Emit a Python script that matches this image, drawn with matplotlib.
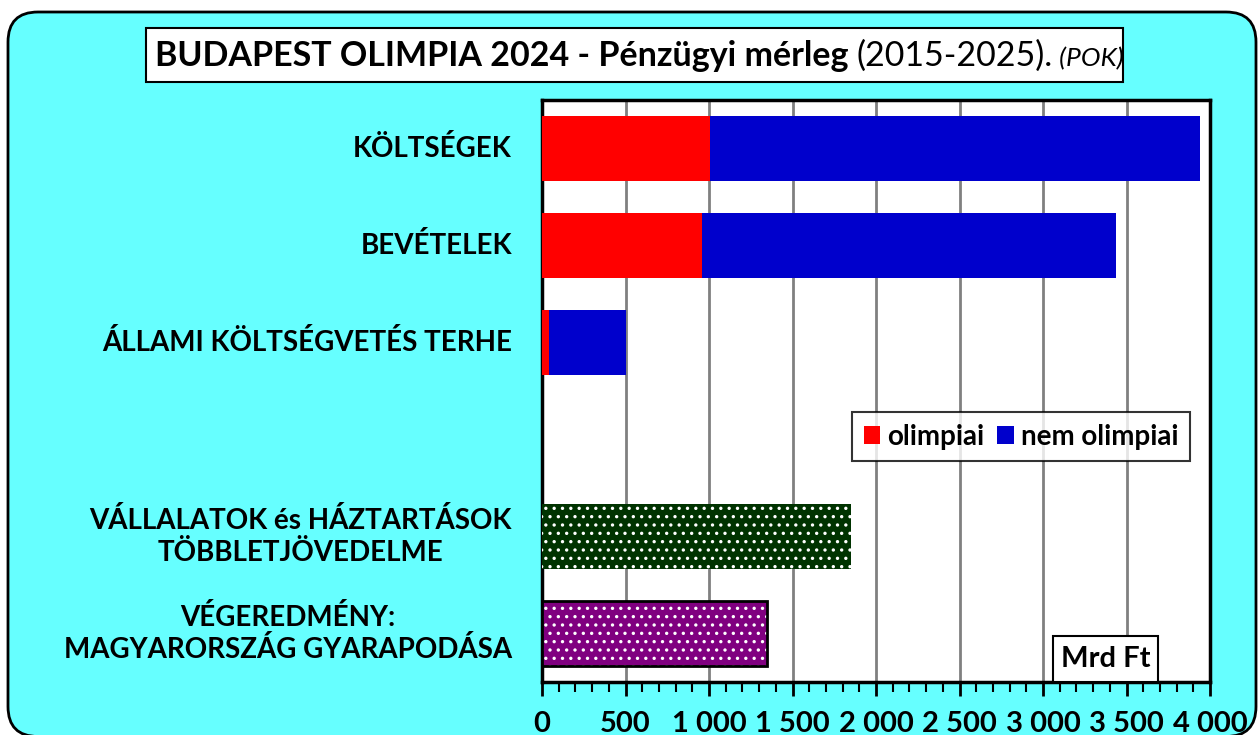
import matplotlib
matplotlib.use("Agg")
import matplotlib.pyplot as plt
from matplotlib.patches import FancyBboxPatch, Patch, Rectangle
from matplotlib.ticker import MultipleLocator, FixedLocator, FuncFormatter

plt.rcParams['font.family'] = ['Lato', 'DejaVu Sans']

categories = ["KÖLTSÉGEK", "BEVÉTELEK", "ÁLLAMI KÖLTSÉGVETÉS TERHE", "",
              "VÁLLALATOK és HÁZTARTÁSOK\nTÖBBLETJÖVEDELME",
              "VÉGEREDMÉNY:\nMAGYARORSZÁG GYARAPODÁSA"]
olimpiai = [1005, 960, 44]
nem_olimpiai = [2935, 2477, 461]
vallalatok = 1848
vegeredmeny = 1345
xticks = [0, 500, 1000, 1500, 2000, 2500, 3000, 3500, 4000]
legend_labels = ["olimpiai", "nem olimpiai"]

W, H = 1260, 735
fig = plt.figure(figsize=(W / 100, H / 100), dpi=100)
fig.patch.set_facecolor('white')

# rounded background (coordinates in inches)
bg = FancyBboxPatch((0.08, -0.015), 12.48, 7.245,
                    boxstyle="round,pad=0,rounding_size=0.3",
                    transform=fig.dpi_scale_trans, facecolor='#66FFFF',
                    edgecolor='black', linewidth=2, zorder=-5)
fig.patches.append(bg)

ax = fig.add_axes([542 / W, (H - 682) / H, 668 / W, 582 / H])
ax.set_zorder(2)
ax.set_facecolor('white')

ypos = list(range(len(categories)))
ax.barh(ypos[:3], olimpiai, height=0.67, color='#FF0000', zorder=3)
ax.barh(ypos[:3], nem_olimpiai, left=olimpiai, height=0.67, color='#0000CC', zorder=3)

plt.rcParams['hatch.linewidth'] = 1.2
ax.barh(ypos[4], vallalatok, height=0.67, facecolor='#003300', edgecolor='white',
        hatch='..', linewidth=0, zorder=3)
ax.barh(ypos[5], vegeredmeny, height=0.67, facecolor='#800080', edgecolor='white',
        hatch='..', linewidth=0, zorder=3)
ax.barh(ypos[5], vegeredmeny, height=0.67, fill=False, edgecolor='black',
        linewidth=2, zorder=4)

ax.set_xlim(0, 4000)
ax.set_ylim(5.5, -0.5)
ax.xaxis.set_major_locator(FixedLocator(xticks))
ax.xaxis.set_minor_locator(MultipleLocator(100))
ax.xaxis.set_major_formatter(FuncFormatter(lambda v, p: f"{int(v):,}".replace(",", " ")))
ax.tick_params(axis='x', which='major', length=10, width=2, pad=11, labelsize=21,
               direction='out')
ax.tick_params(axis='x', which='minor', length=7, width=1.5, direction='out')
for lab in ax.get_xticklabels():
    lab.set_fontweight('bold')
ax.set_yticks([])
ax.grid(axis='x', which='major', color='#808080', linewidth=2, zorder=1)
ax.set_axisbelow(True)
for s in ax.spines.values():
    s.set_linewidth(2.5)
    s.set_color('black')

# category labels
for y, c in zip(ypos, categories):
    if c:
        ax.text(-0.045, y, c, transform=ax.get_yaxis_transform(), ha='right',
                va='center', multialignment='center', fontsize=20,
                fontweight='bold', linespacing=1.25)

# legend
handles = [Patch(facecolor='#FF0000'), Patch(facecolor='#0000CC')]
leg = ax.legend(handles, legend_labels, loc='upper left',
                bbox_to_anchor=((852 - 542) / 668, (682 - 412) / 582), ncol=2,
                frameon=True, fancybox=False, prop={'weight': 'bold', 'size': 20},
                handlelength=0.6, handleheight=0.6, handletextpad=0.25,
                columnspacing=0.45, borderpad=0.42, borderaxespad=0)
leg.get_frame().set_edgecolor('black')
leg.get_frame().set_linewidth(1.5)
leg.set_zorder(6)

# unit box
x0, x1 = (1053 - 542) / 668, (1158 - 542) / 668
ax.add_patch(Rectangle((x0, 0), x1 - x0, 46 / 582, transform=ax.transAxes,
                       facecolor='white', edgecolor='black', linewidth=1.5,
                       zorder=6, clip_on=False))
ax.text((x0 + x1) / 2, 23 / 582, "Mrd Ft", transform=ax.transAxes, ha='center',
        va='center', fontsize=21, fontweight='bold', zorder=7)

# title box
fig.patches.append(Rectangle((146 / W, (H - 82) / H), (1123 - 146) / W, 54 / H,
                             transform=fig.transFigure, facecolor='white',
                             edgecolor='black', linewidth=1.5, zorder=1))
fig.canvas.draw()
r = fig.canvas.get_renderer()
x = 155 / W
yb = (H - 66) / H
parts = [("BUDAPEST OLIMPIA 2024 - Pénzügyi mérleg ", dict(fontweight='bold', fontsize=24.5)),
         ("(2015-2025).", dict(fontweight='normal', fontsize=24.5)),
         (" (POK)", dict(fontstyle='italic', fontsize=19))]
for t, kw in parts:
    tx = fig.text(x, yb, t, ha='left', va='baseline', zorder=3, **kw)
    bb = tx.get_window_extent(renderer=r)
    x += bb.width / W

fig.savefig("out.png", dpi=100, facecolor=fig.get_facecolor())
